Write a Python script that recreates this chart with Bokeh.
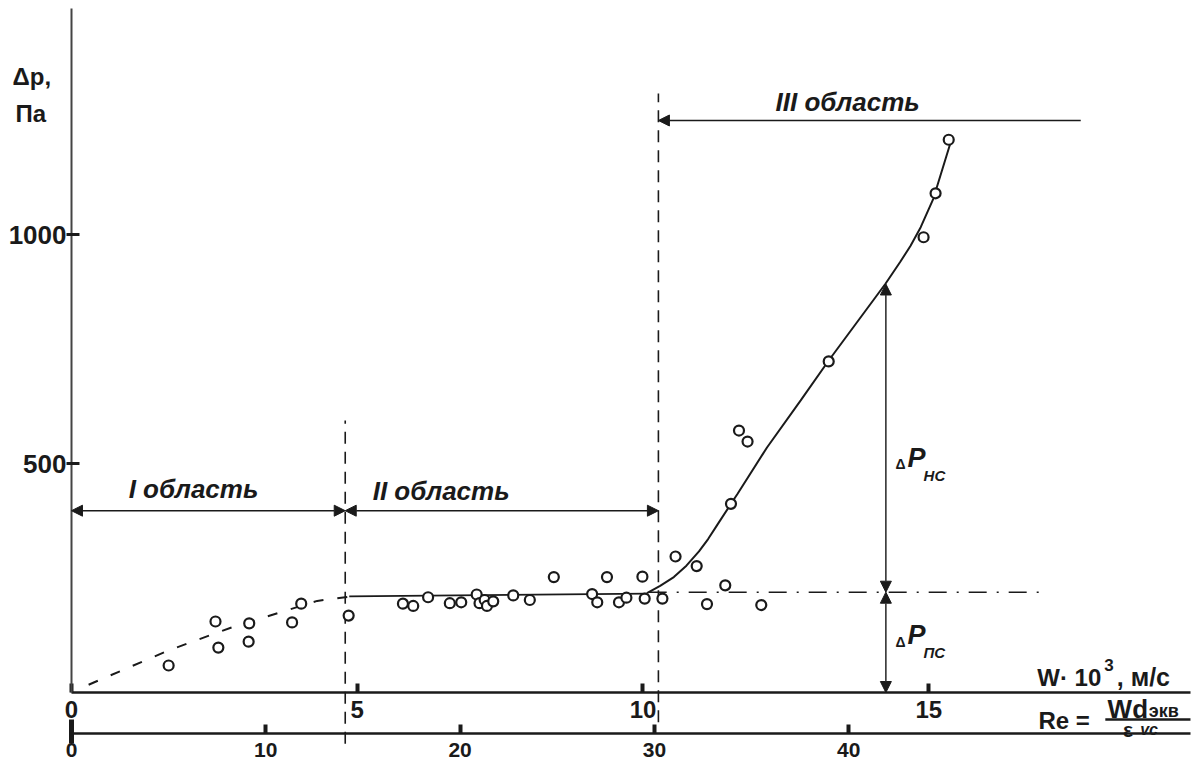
from bokeh.plotting import figure
from bokeh.models import (Range1d, LinearAxis, FixedTicker, Label, Arrow, NormalHead)
from bokeh.embed import file_html
from bokeh.resources import INLINE

# ---------------- data ----------------
# experimental points: W*10^3 (m/s) and pressure drop (Pa)
w_pts = [1.70, 2.52, 2.57, 3.11, 3.10, 3.86, 4.02, 4.85,
         5.80, 5.98, 6.24, 6.62, 6.82, 7.09, 7.14, 7.23, 7.27, 7.38, 7.73, 8.02,
         8.44, 9.11, 9.20, 9.37, 9.58, 9.71, 9.99, 10.03, 10.34,
         10.57, 10.94, 11.44, 11.12, 12.07, 11.54, 11.68, 11.83, 13.25, 14.91, 15.12, 15.35]
dp_pts = [59, 155, 98, 151, 111, 153, 194, 168,
          194, 189, 208, 195, 197, 214, 195, 202, 189, 199, 212, 202,
          252, 215, 197, 252, 197, 207, 253, 205, 205,
          297, 276, 234, 193, 191, 412, 572, 548, 723, 994, 1090, 1207]

# region I trend (dashed)
trend1_w = [0.3, 1.7, 2.8, 4.3, 4.9]
trend1_dp = [17, 92, 142, 200, 210]
# region II trend (solid)
trend2_w = [4.86, 10.07]
trend2_dp = [210, 216]
# region III curve (solid)
curve3_w = [10.07, 10.30, 10.54, 10.76, 10.98, 11.14, 11.30, 11.54, 11.65, 12.17, 12.76,
            13.25, 14.24, 14.50, 14.68, 14.86, 15.08, 15.38]
curve3_dp = [217, 233, 252, 277, 308, 335, 366, 412, 433, 535, 638,
             725, 892, 940, 975, 1016, 1078, 1200]
# extrapolated level of region II (dash-dot)
level_w = [10.1, 17.04]
level_dp = [219, 219]

# region borders
border1_w = 4.79
border2_w = 10.27
border1_span = [-112, 594]
border2_span = [-65, 1308]

# delta-p arrows
dp_arrow_w = 14.25
dp_level = 219
dp_curve = 892

w_ticks = [0, 5, 10, 15]
re_ticks = [0, 10, 20, 30, 40]
dp_ticks = [500, 1000]

W_AXIS_END = 19.58
DP_AXIS_END = 1493
RE_AXIS_END = 57.6
RE_AXIS_LEVEL = -90  # vertical position of the Re scale, in Pa units

FONT = "Liberation Sans"
INK = "#1a1a1a"

p = figure(width=1203, height=764, output_backend="svg", toolbar_location=None,
           x_range=Range1d(-1.242, 19.808), y_range=Range1d(-157.2, 1511),
           x_axis_type=None, y_axis_type=None,
           min_border_left=0, min_border_right=0, min_border_top=0, min_border_bottom=0)
p.outline_line_color = None
p.xgrid.visible = False
p.ygrid.visible = False
p.background_fill_color = "white"
p.border_fill_color = "white"

# y axis
yax = LinearAxis(ticker=FixedTicker(ticks=dp_ticks), fixed_location=0, bounds=(0, DP_AXIS_END))
yax.axis_line_color = "#444"
yax.axis_line_width = 2
yax.major_tick_in = 8
yax.major_tick_out = 5
yax.major_tick_line_width = 3
yax.major_tick_line_color = INK
yax.minor_tick_line_color = None
yax.major_label_standoff = 0
yax.major_label_text_font = FONT
yax.major_label_text_font_style = "bold"
yax.major_label_text_font_size = "26px"
yax.major_label_text_color = INK
p.add_layout(yax, "left")

# W axis
wax = LinearAxis(ticker=FixedTicker(ticks=w_ticks), fixed_location=0, bounds=(0, W_AXIS_END))
wax.axis_line_color = INK
wax.axis_line_width = 2.5
wax.major_tick_in = 9
wax.major_tick_out = 0
wax.major_tick_line_width = 4
wax.major_tick_line_color = INK
wax.minor_tick_line_color = None
wax.major_label_standoff = 8
wax.major_label_text_font = FONT
wax.major_label_text_font_style = "bold"
wax.major_label_text_font_size = "24px"
wax.major_label_text_color = INK
p.add_layout(wax, "below")

# Re axis
p.extra_x_ranges = {"re": Range1d(-3.654, 58.26)}
rax = LinearAxis(x_range_name="re", ticker=FixedTicker(ticks=re_ticks, minor_ticks=[0]),
                 fixed_location=RE_AXIS_LEVEL, bounds=(0, RE_AXIS_END))
rax.axis_line_color = INK
rax.axis_line_width = 2.5
rax.major_tick_in = 9
rax.major_tick_out = 0
rax.major_tick_line_width = 4
rax.major_tick_line_color = INK
rax.minor_tick_in = 14
rax.minor_tick_out = 10
rax.minor_tick_line_width = 5
rax.minor_tick_line_color = INK
rax.major_label_standoff = -1
rax.major_label_text_font = FONT
rax.major_label_text_font_style = "bold"
rax.major_label_text_font_size = "21px"
rax.major_label_text_color = INK
p.add_layout(rax, "below")

# region borders (dashed verticals)
p.line([border1_w, border1_w], border1_span, line_color=INK, line_width=1.6, line_dash="12 8")
p.line([border2_w, border2_w], border2_span, line_color=INK, line_width=1.6, line_dash="12 8")

# trends
p.line(trend1_w, trend1_dp, line_color=INK, line_width=2, line_dash="10 14")
p.line(trend2_w, trend2_dp, line_color=INK, line_width=1.6)
p.line(level_w, level_dp, line_color=INK, line_width=1.6, line_dash="18 10 2 10")
p.line(curve3_w, curve3_dp, line_color=INK, line_width=2)

# points
p.scatter(w_pts, dp_pts, marker="circle", size=10, fill_color="white",
          line_color=INK, line_width=2.2)

# arrows
def head():
    return NormalHead(size=11, fill_color=INK, line_color=INK, line_width=1)

arrow_y = 397
p.add_layout(Arrow(x_start=0, y_start=arrow_y, x_end=border1_w, y_end=arrow_y,
                   start=head(), end=head(), line_color=INK, line_width=1.6))
p.add_layout(Arrow(x_start=border1_w, y_start=arrow_y, x_end=border2_w, y_end=arrow_y,
                   start=head(), end=head(), line_color=INK, line_width=1.6))
p.add_layout(Arrow(x_start=17.66, y_start=1249, x_end=border2_w, y_end=1249,
                   start=None, end=head(), line_color=INK, line_width=1.6))
p.add_layout(Arrow(x_start=dp_arrow_w, y_start=dp_level, x_end=dp_arrow_w, y_end=dp_curve,
                   start=head(), end=head(), line_color="#333", line_width=1.6))
p.add_layout(Arrow(x_start=dp_arrow_w, y_start=0, x_end=dp_arrow_w, y_end=dp_level,
                   start=head(), end=head(), line_color="#333", line_width=1.6))

# labels
def lab(x, y, text, size, style="bold"):
    p.add_layout(Label(x=x, y=y, text=text, text_font=FONT, text_font_size=size,
                       text_font_style=style, text_color=INK, text_baseline="middle",
                       text_align="left"))

lab(1.0, 445, "I область", "26px", "bold italic")
lab(5.27, 440, "II область", "26px", "bold italic")
lab(12.32, 1290, "III область", "26px", "bold italic")

lab(-1.03, 1345, "Δp,", "24px")
lab(-0.98, 1264, "Па", "24px")

# ΔP_НС
lab(14.42, 498, "Δ", "14px")
lab(14.63, 512, "P", "27px", "bold italic")
lab(14.91, 474, "НС", "15px", "bold italic")
# ΔP_ПС
lab(14.42, 111, "Δ", "14px")
lab(14.63, 126, "P", "27px", "bold italic")
lab(14.91, 87, "ПС", "15px", "bold italic")

# W axis title
lab(16.90, 33, "W· 10", "24px")
lab(18.07, 61, "3", "17px")
lab(18.29, 33, ", м/с", "25px")

# Re definition
lab(16.92, -61, "Re =", "24px")
lab(18.13, -35, "Wd", "26px")
lab(18.85, -41, "экв", "18px")
lab(18.40, -80, "ε", "21px")
lab(18.70, -81, "vc", "16px", "bold italic")
p.add_layout(Arrow(x_start=18.09, y_start=-59, x_end=19.58, y_end=-59, start=None, end=None,
                   line_color=INK, line_width=2.5))

html = file_html(p, INLINE)
open("out.html", "w").write(html)
